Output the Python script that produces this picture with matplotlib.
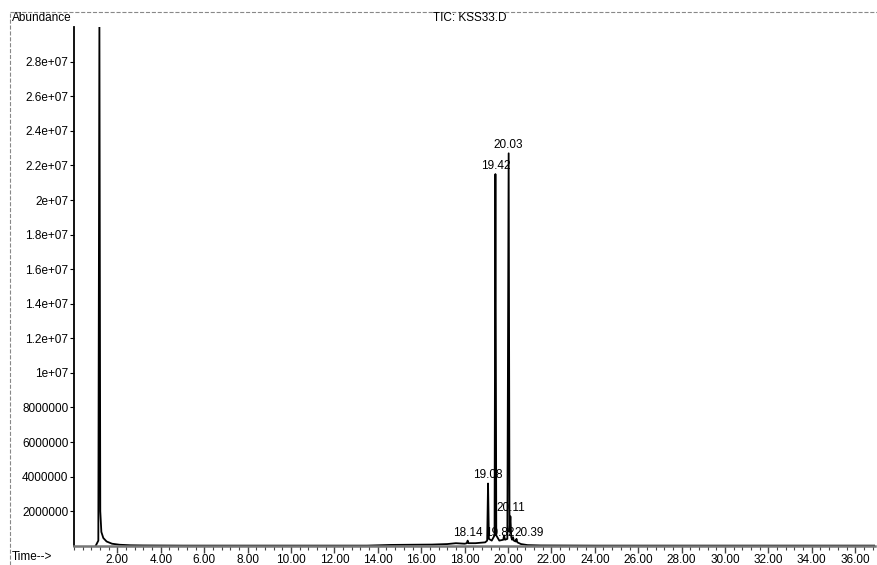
import numpy as np
import matplotlib.pyplot as plt
from matplotlib.lines import Line2D

plt.rcParams['font.family'] = ['Liberation Sans', 'DejaVu Sans']

# trace: retention time (min) and abundance (counts)
rt = [1.00, 1.12, 1.17, 1.21, 1.26, 1.35, 1.50, 1.75, 2.10, 2.60, 3.20, 5.0, 8.0,
      11.0, 13.5, 14.6, 15.5, 16.5, 17.2, 17.6, 18.0, 18.10, 18.14, 18.18, 18.5,
      18.95, 19.04, 19.08, 19.12, 19.25, 19.38, 19.42, 19.46, 19.60, 19.78, 19.82,
      19.86, 19.97, 20.03, 20.07, 20.11, 20.15, 20.19, 20.23, 20.27, 20.35, 20.39,
      20.43, 20.6, 20.9, 21.5, 24.0, 30.0, 36.9]
abund = [0.0, 0.3, 30.5, 2.0, 0.8, 0.45, 0.25, 0.12, 0.06, 0.03, 0.02, 0.01, 0.01,
         0.01, 0.01, 0.05, 0.06, 0.07, 0.1, 0.15, 0.12, 0.15, 0.3, 0.15, 0.15,
         0.2, 0.3, 3.6, 0.4, 0.3, 0.6, 21.5, 0.6, 0.3, 0.35, 0.6, 0.35, 0.4,
         22.7, 0.8, 1.7, 0.5, 0.35, 0.5, 0.3, 0.25, 0.4, 0.2, 0.1, 0.04, 0.02,
         0.01, 0.01, 0.01]
abund = [a * 1e6 for a in abund]

# labelled peaks
peak_rt = [18.14, 19.08, 19.42, 19.82, 20.03, 20.11, 20.39]
peak_lab = ['18.14', '19.08', '19.42', '19.82', '20.03', '20.11', '20.39']
peak_h = [0.3e6, 3.6e6, 21.5e6, 0.3e6, 22.7e6, 1.7e6, 0.3e6]

yticks = [2e6, 4e6, 6e6, 8e6, 1e7, 1.2e7, 1.4e7, 1.6e7, 1.8e7, 2e7,
          2.2e7, 2.4e7, 2.6e7, 2.8e7]
ytick_labels = ['2000000', '4000000', '6000000', '8000000', '1e+07', '1.2e+07',
                '1.4e+07', '1.6e+07', '1.8e+07', '2e+07', '2.2e+07', '2.4e+07',
                '2.6e+07', '2.8e+07']
xticks = np.arange(2, 37, 2)

fig = plt.figure(figsize=(8.77, 5.65), dpi=100)
ax = fig.add_axes([0.0844, 0.034, 0.913, 0.918])

ax.plot(rt, abund, color='black', lw=1.3)
offsets = {'19.82': (-3, 1.5), '20.39': (9, 1.5)}
for t, lab, h in zip(peak_rt, peak_lab, peak_h):
    ax.annotate(lab, (t, h), xytext=offsets.get(lab, (0, 1.5)),
                textcoords='offset points', ha='center', va='bottom', fontsize=8.5)

ax.set_xlim(0, 36.9)
ax.set_ylim(0, 3.0e7)
ax.set_xticks(xticks)
ax.set_xticklabels(['%.2f' % v for v in xticks], fontsize=8.5)
ax.set_xticks(np.arange(0, 36.9, 0.4), minor=True)
ax.set_yticks(yticks)
ax.set_yticklabels(ytick_labels, fontsize=8.5)
ax.tick_params(axis='x', which='major', length=5, width=1, pad=1, color='#444444')
ax.tick_params(axis='x', which='minor', length=3, width=0.8, color='#444444')
ax.tick_params(axis='y', length=3, width=0.8, pad=1)
ax.spines['top'].set_visible(False)
ax.spines['right'].set_visible(False)
ax.spines['left'].set_linewidth(1.3)
ax.spines['bottom'].set_linewidth(1.8)
ax.spines['bottom'].set_color('#777777')

fig.text(12 / 877, 1 - 18 / 565, 'Abundance', fontsize=8.5, va='center')
fig.text(470 / 877, 1 - 18 / 565, 'TIC: KSS33.D', fontsize=8.5, ha='center', va='center')
fig.text(12 / 877, 1 - 557 / 565, 'Time-->', fontsize=8.5, va='center')

# dashed frame round the page
fig.add_artist(Line2D([10 / 877, 1], [1 - 12 / 565, 1 - 12 / 565], ls='--',
                      lw=0.8, color='#888888', transform=fig.transFigure))
fig.add_artist(Line2D([10 / 877, 10 / 877], [0, 1 - 12 / 565], ls='--',
                      lw=0.8, color='#888888', transform=fig.transFigure))

fig.savefig('out.png', dpi=100)
